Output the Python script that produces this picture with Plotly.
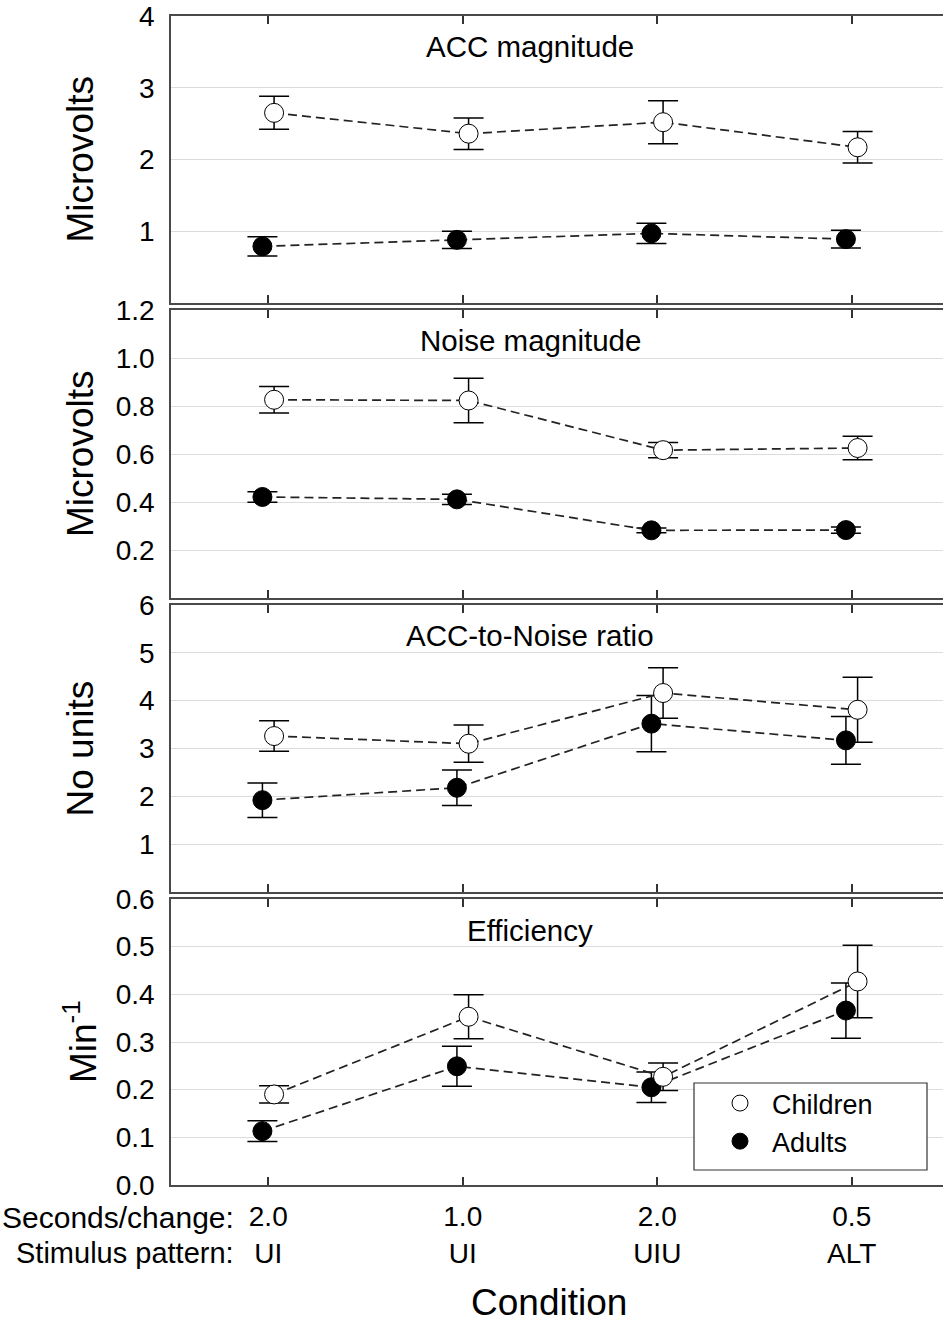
import plotly.graph_objects as go
from plotly.subplots import make_subplots

W, H = 943, 1323

# ---------------- data ----------------
conditions = [1, 2, 3, 4]
seconds_labels = ["2.0", "1.0", "2.0", "0.5"]
pattern_labels = ["UI", "UI", "UIU", "ALT"]

acc_children = [2.65, 2.36, 2.52, 2.17]
acc_children_err = [0.23, 0.22, 0.30, 0.22]
acc_adults = [0.79, 0.88, 0.97, 0.89]
acc_adults_err = [0.135, 0.12, 0.14, 0.125]

noise_children = [0.826, 0.823, 0.616, 0.625]
noise_children_err = [0.055, 0.093, 0.032, 0.049]
noise_adults = [0.421, 0.411, 0.282, 0.283]
noise_adults_err = [0.022, 0.021, 0.010, 0.013]

ratio_children = [3.26, 3.10, 4.16, 3.81]
ratio_children_err = [0.32, 0.39, 0.53, 0.68]
ratio_adults = [1.92, 2.18, 3.52, 3.17]
ratio_adults_err = [0.36, 0.37, 0.59, 0.50]

eff_children = [0.190, 0.353, 0.227, 0.427]
eff_children_err = [0.018, 0.046, 0.029, 0.076]
eff_adults = [0.113, 0.249, 0.205, 0.366]
eff_adults_err = [0.022, 0.042, 0.032, 0.058]

acc_ticks = [1, 2, 3, 4]
noise_ticks = [0.2, 0.4, 0.6, 0.8, 1.0, 1.2]
ratio_ticks = [1, 2, 3, 4, 5, 6]
eff_ticks = [0.0, 0.1, 0.2, 0.3, 0.4, 0.5, 0.6]

panel_titles = ["ACC magnitude", "Noise magnitude", "ACC-to-Noise ratio", "Efficiency"]
y_titles = ["Microvolts", "Microvolts", "No units", "Min<sup>-1</sup>"]

DODGE = 0.03  # horizontal offset between groups

# ---------------- style ----------------
FONT = "Liberation Sans, Arial, sans-serif"
AXIS_COLOR = "#4a4a4a"
GRID_COLOR = "#dcdcdc"

panels = [
    dict(c=acc_children, ce=acc_children_err, a=acc_adults, ae=acc_adults_err,
         yr=[0, 4], tv=acc_ticks, fmt="d", top=16, bottom=303),
    dict(c=noise_children, ce=noise_children_err, a=noise_adults, ae=noise_adults_err,
         yr=[0, 1.2], tv=noise_ticks, fmt=".1f", top=310, bottom=598),
    dict(c=ratio_children, ce=ratio_children_err, a=ratio_adults, ae=ratio_adults_err,
         yr=[0, 6], tv=ratio_ticks, fmt="d", top=605, bottom=892),
    dict(c=eff_children, ce=eff_children_err, a=eff_adults, ae=eff_adults_err,
         yr=[0, 0.6], tv=eff_ticks, fmt=".1f", top=899, bottom=1185),
]

def py(px):
    return 1 - px / H

def pxx(px):
    return px / W

fig = make_subplots(rows=4, cols=1)

x_left, x_right = 171, 943
x_range = [0.5, 0.5 + (x_right - x_left) / 194.5]

line_style = dict(color="#222222", width=1.7, dash="9px,5px")
err_style = dict(type="data", visible=True, color="black", thickness=1.5, width=15)

annotations = []
for i, p in enumerate(panels):
    r = i + 1
    xa = [x - DODGE for x in conditions]
    xc = [x + DODGE for x in conditions]
    fig.add_trace(go.Scatter(
        x=xa, y=p["a"], mode="lines+markers", showlegend=False,
        line=line_style,
        marker=dict(size=19, color="black", line=dict(color="black", width=1)),
        error_y=dict(array=p["ae"], **err_style),
    ), row=r, col=1)
    fig.add_trace(go.Scatter(
        x=xc, y=p["c"], mode="lines+markers", showlegend=False,
        line=line_style,
        marker=dict(size=19, color="white", line=dict(color="black", width=1)),
        error_y=dict(array=p["ce"], **err_style),
    ), row=r, col=1)

    xname = "xaxis" if r == 1 else f"xaxis{r}"
    yname = "yaxis" if r == 1 else f"yaxis{r}"
    fig.layout[xname].update(
        domain=[pxx(x_left), 1.0], range=x_range,
        tickvals=conditions,
        ticktext=[f"{s}<br>{t}" for s, t in zip(seconds_labels, pattern_labels)],
        showticklabels=(r == 4),
        ticks="inside", ticklen=8, tickwidth=1.5, tickcolor="#333",
        showline=True, linecolor=AXIS_COLOR, linewidth=1.5, mirror="ticks",
        showgrid=False, zeroline=False, automargin=False,
        tickfont=dict(family=FONT, size=28, color="black"),
        ticklabelstandoff=6, ticklabeloverflow="allow",
    )
    fig.layout[yname].update(
        domain=[py(p["bottom"]), py(p["top"])], range=p["yr"],
        tickvals=p["tv"], tickformat=p["fmt"],
        showline=True, linecolor=AXIS_COLOR, linewidth=1.5, mirror=False,
        ticks="", showgrid=True, gridcolor=GRID_COLOR, gridwidth=1.2,
        zeroline=False, automargin=False,
        tickfont=dict(family=FONT, size=28, color="black"),
        ticklabelstandoff=9, ticklabeloverflow="allow",
    )
    # panel title
    annotations.append(dict(
        text=panel_titles[i], x=pxx(530), y=py(p["top"] + 31),
        xref="paper", yref="paper", xanchor="center", yanchor="middle",
        showarrow=False, font=dict(family=FONT, size=29.5, color="black"),
    ))
    # y axis title
    annotations.append(dict(
        text=y_titles[i], x=pxx(80), y=py((p["top"] + p["bottom"]) / 2),
        xref="paper", yref="paper", xanchor="center", yanchor="middle",
        textangle=-90, showarrow=False,
        font=dict(family=FONT, size=37, color="black"),
    ))

annotations += [
    dict(text="Seconds/change:", x=pxx(236), y=py(1217), xref="paper", yref="paper",
         xanchor="right", yanchor="middle", showarrow=False,
         font=dict(family=FONT, size=30, color="black")),
    dict(text="Stimulus pattern:", x=pxx(236), y=py(1253), xref="paper", yref="paper",
         xanchor="right", yanchor="middle", showarrow=False,
         font=dict(family=FONT, size=29, color="black")),
    dict(text="Condition", x=pxx(549), y=py(1302), xref="paper", yref="paper",
         xanchor="center", yanchor="middle", showarrow=False,
         font=dict(family=FONT, size=37, color="black")),
]

# legend entries
fig.add_trace(go.Scatter(x=[None], y=[None], mode="markers", name="Children",
                         marker=dict(size=18, color="white", line=dict(color="black", width=1))),
              row=4, col=1)
fig.add_trace(go.Scatter(x=[None], y=[None], mode="markers", name="Adults",
                         marker=dict(size=18, color="black", line=dict(color="black", width=1))),
              row=4, col=1)

fig.update_layout(
    width=W, height=H,
    margin=dict(l=0, r=0, t=0, b=0, autoexpand=False),
    paper_bgcolor="white", plot_bgcolor="white",
    font=dict(family=FONT, color="black"),
    annotations=annotations,
    showlegend=True,
    legend=dict(x=pxx(708), y=py(1079), xanchor="left", yanchor="top",
                bgcolor="rgba(0,0,0,0)", borderwidth=0,
                font=dict(family=FONT, size=27, color="black"),
                itemwidth=54, tracegroupgap=0),
    shapes=[dict(type="rect", xref="paper", yref="paper",
                 x0=pxx(694), x1=pxx(927), y0=py(1170), y1=py(1083),
                 line=dict(color="#333", width=1.2), fillcolor="white", layer="above")],
)

# remove the default page margin so the figure fills the window exactly
fig.write_html(
    "out.html",
    config={"displayModeBar": False},
    post_script="document.body.style.margin='0px';document.body.style.overflow='hidden';",
)
